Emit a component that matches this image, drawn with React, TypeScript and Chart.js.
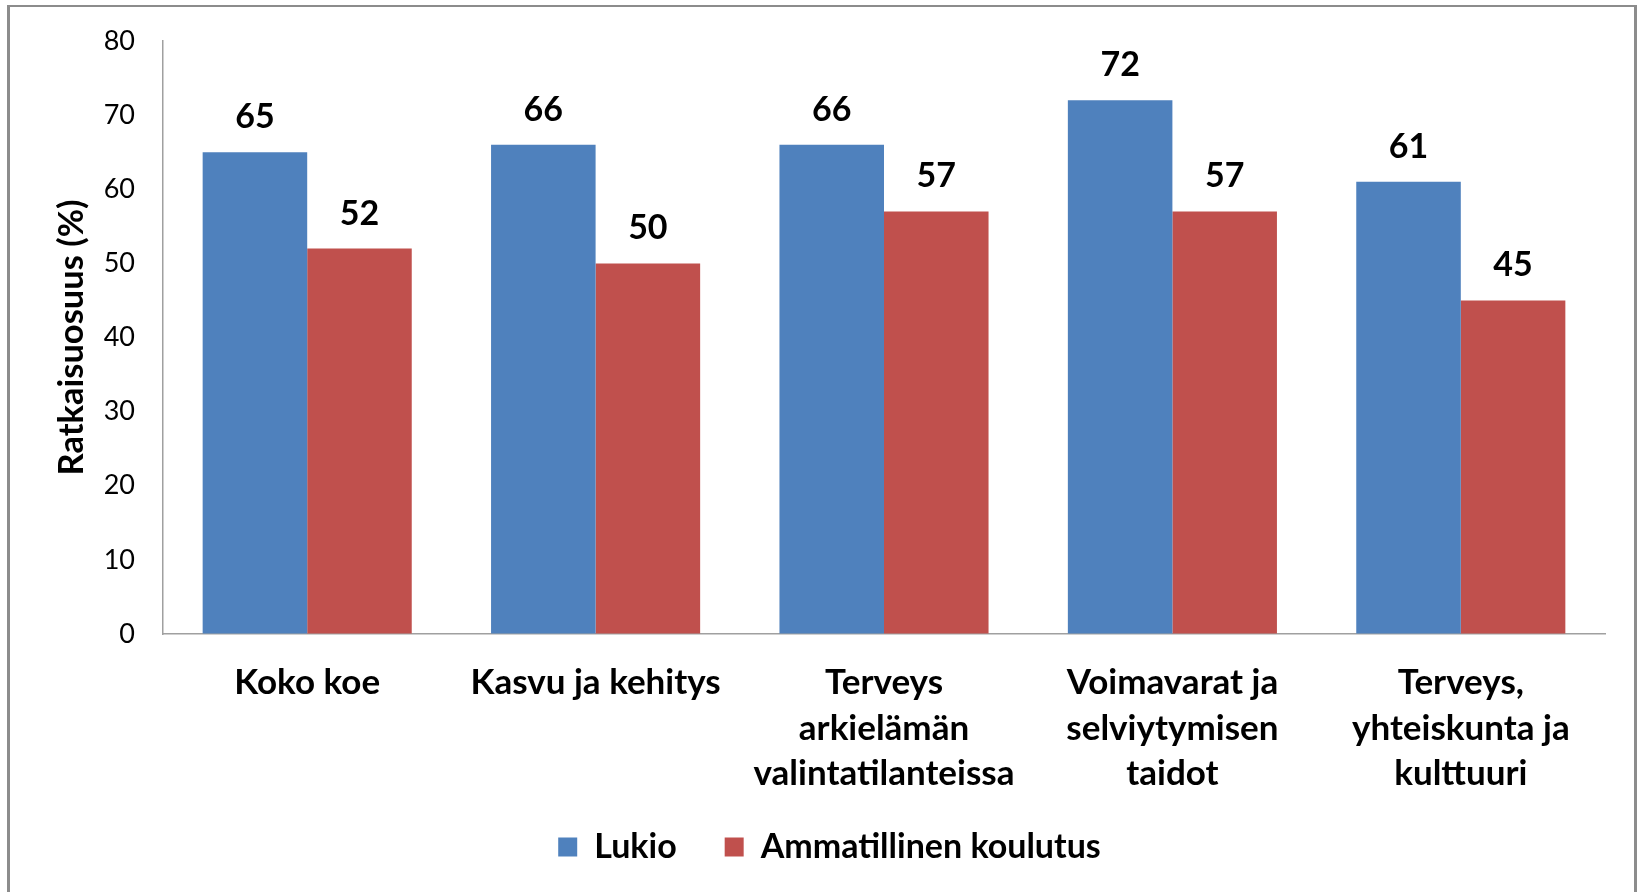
import React, { useEffect, useRef } from "react";
import { Chart, registerables } from "chart.js";

Chart.register(...registerables);

const categories: string[][] = [
  ["Koko koe"],
  ["Kasvu ja kehitys"],
  ["Terveys", "arkielämän", "valintatilanteissa"],
  ["Voimavarat ja", "selviytymisen", "taidot"],
  ["Terveys,", "yhteiskunta ja", "kulttuuri"],
];
const lukio = [65, 66, 66, 72, 61];
const ammatillinen = [52, 50, 57, 57, 45];
const seriesNames = ["Lukio", "Ammatillinen koulutus"];
const yTicks = [0, 10, 20, 30, 40, 50, 60, 70, 80];
const yTitle = "Ratkaisuosuus (%)";

const FONT = "Lato, 'Open Sans', sans-serif";

const framePlugin = {
  id: "frame",
  beforeDraw(chart: any) {
    const ctx = chart.ctx;
    ctx.save();
    ctx.fillStyle = "#ffffff";
    ctx.fillRect(0, 0, chart.width, chart.height);
    ctx.fillStyle = "#8c8c8c";
    ctx.fillRect(7, 5, 3, chart.height);
    ctx.fillRect(7, 5, 1630, 2);
    ctx.fillRect(1634, 5, 3, chart.height);
    ctx.restore();
  },
};

const valueLabelPlugin = {
  id: "valueLabels",
  afterDatasetsDraw(chart: any) {
    const ctx = chart.ctx;
    ctx.save();
    ctx.font = `bold 34px ${FONT}`;
    ctx.fillStyle = "#000000";
    ctx.textAlign = "center";
    ctx.textBaseline = "alphabetic";
    chart.data.datasets.forEach((ds: any, di: number) => {
      const meta = chart.getDatasetMeta(di);
      meta.data.forEach((bar: any, i: number) => {
        ctx.fillText(String(ds.data[i]), bar.x, bar.y - 24);
      });
    });
    ctx.restore();
  },
};

const legendShiftPlugin = {
  id: "legendShift",
  afterLayout(chart: any) {
    const lg = chart.legend;
    if (lg) {
      lg.left += 22;
      lg.right += 22;
      lg.top -= 17;
      lg.bottom -= 17;
    }
  },
};

export default function App() {
  const ref = useRef<HTMLCanvasElement>(null);
  useEffect(() => {
    if (!ref.current) return;
    const chart = new Chart(ref.current, {
      type: "bar",
      data: {
        labels: categories,
        datasets: [
          {
            label: seriesNames[0],
            data: lukio,
            backgroundColor: "#4F81BD",
            borderWidth: 0,
          },
          {
            label: seriesNames[1],
            data: ammatillinen,
            backgroundColor: "#C0504D",
            borderWidth: 0,
          },
        ],
      },
      options: {
        animation: false,
        responsive: false,
        devicePixelRatio: 1,
        layout: { padding: { left: 10, right: 35, top: 41, bottom: 1 } },
        datasets: { bar: { categoryPercentage: 0.725, barPercentage: 1 } },
        plugins: {
          tooltip: { enabled: false },
          legend: {
            position: "bottom",
            labels: {
              boxWidth: 19,
              boxHeight: 19,
              padding: 48,
              color: "#000000",
              font: { family: FONT, size: 34, weight: "bold" },
            },
          },
        },
        scales: {
          x: {
            grid: { display: false, drawTicks: false },
            border: { display: true, color: "#A0A0A0", width: 1.5 },
            ticks: {
              color: "#000000",
              padding: 26,
              maxRotation: 0,
              autoSkip: false,
              font: { family: FONT, size: 35, weight: "bold", lineHeight: 1.3 },
            },
            afterFit(scale: any) {
              scale.height = 165;
            },
          },
          y: {
            min: 0,
            max: 80,
            afterBuildTicks(scale: any) {
              scale.ticks = yTicks.map((v) => ({ value: v }));
            },
            grid: { display: true, drawTicks: false, color: "rgba(0,0,0,0)" },
            border: { display: true, color: "#A0A0A0", width: 1.5 },
            ticks: {
              color: "#000000",
              padding: 28,
              font: { family: FONT, size: 27 },
            },
            title: {
              display: true,
              text: yTitle,
              color: "#000000",
              padding: { top: 41, bottom: 0 },
              font: { family: FONT, size: 34.5, weight: "bold" },
            },
            afterFit(scale: any) {
              scale.width = 153;
              scale.paddingTop = 0;
              scale.paddingBottom = 0;
            },
          },
        },
      },
      plugins: [framePlugin, valueLabelPlugin, legendShiftPlugin],
    });
    return () => chart.destroy();
  }, []);
  return (
    <div style={{ position: "fixed", left: 0, top: 0, width: 1640, height: 892 }}>
      <canvas ref={ref} width={1640} height={892} style={{ display: "block" }} />
    </div>
  );
}
